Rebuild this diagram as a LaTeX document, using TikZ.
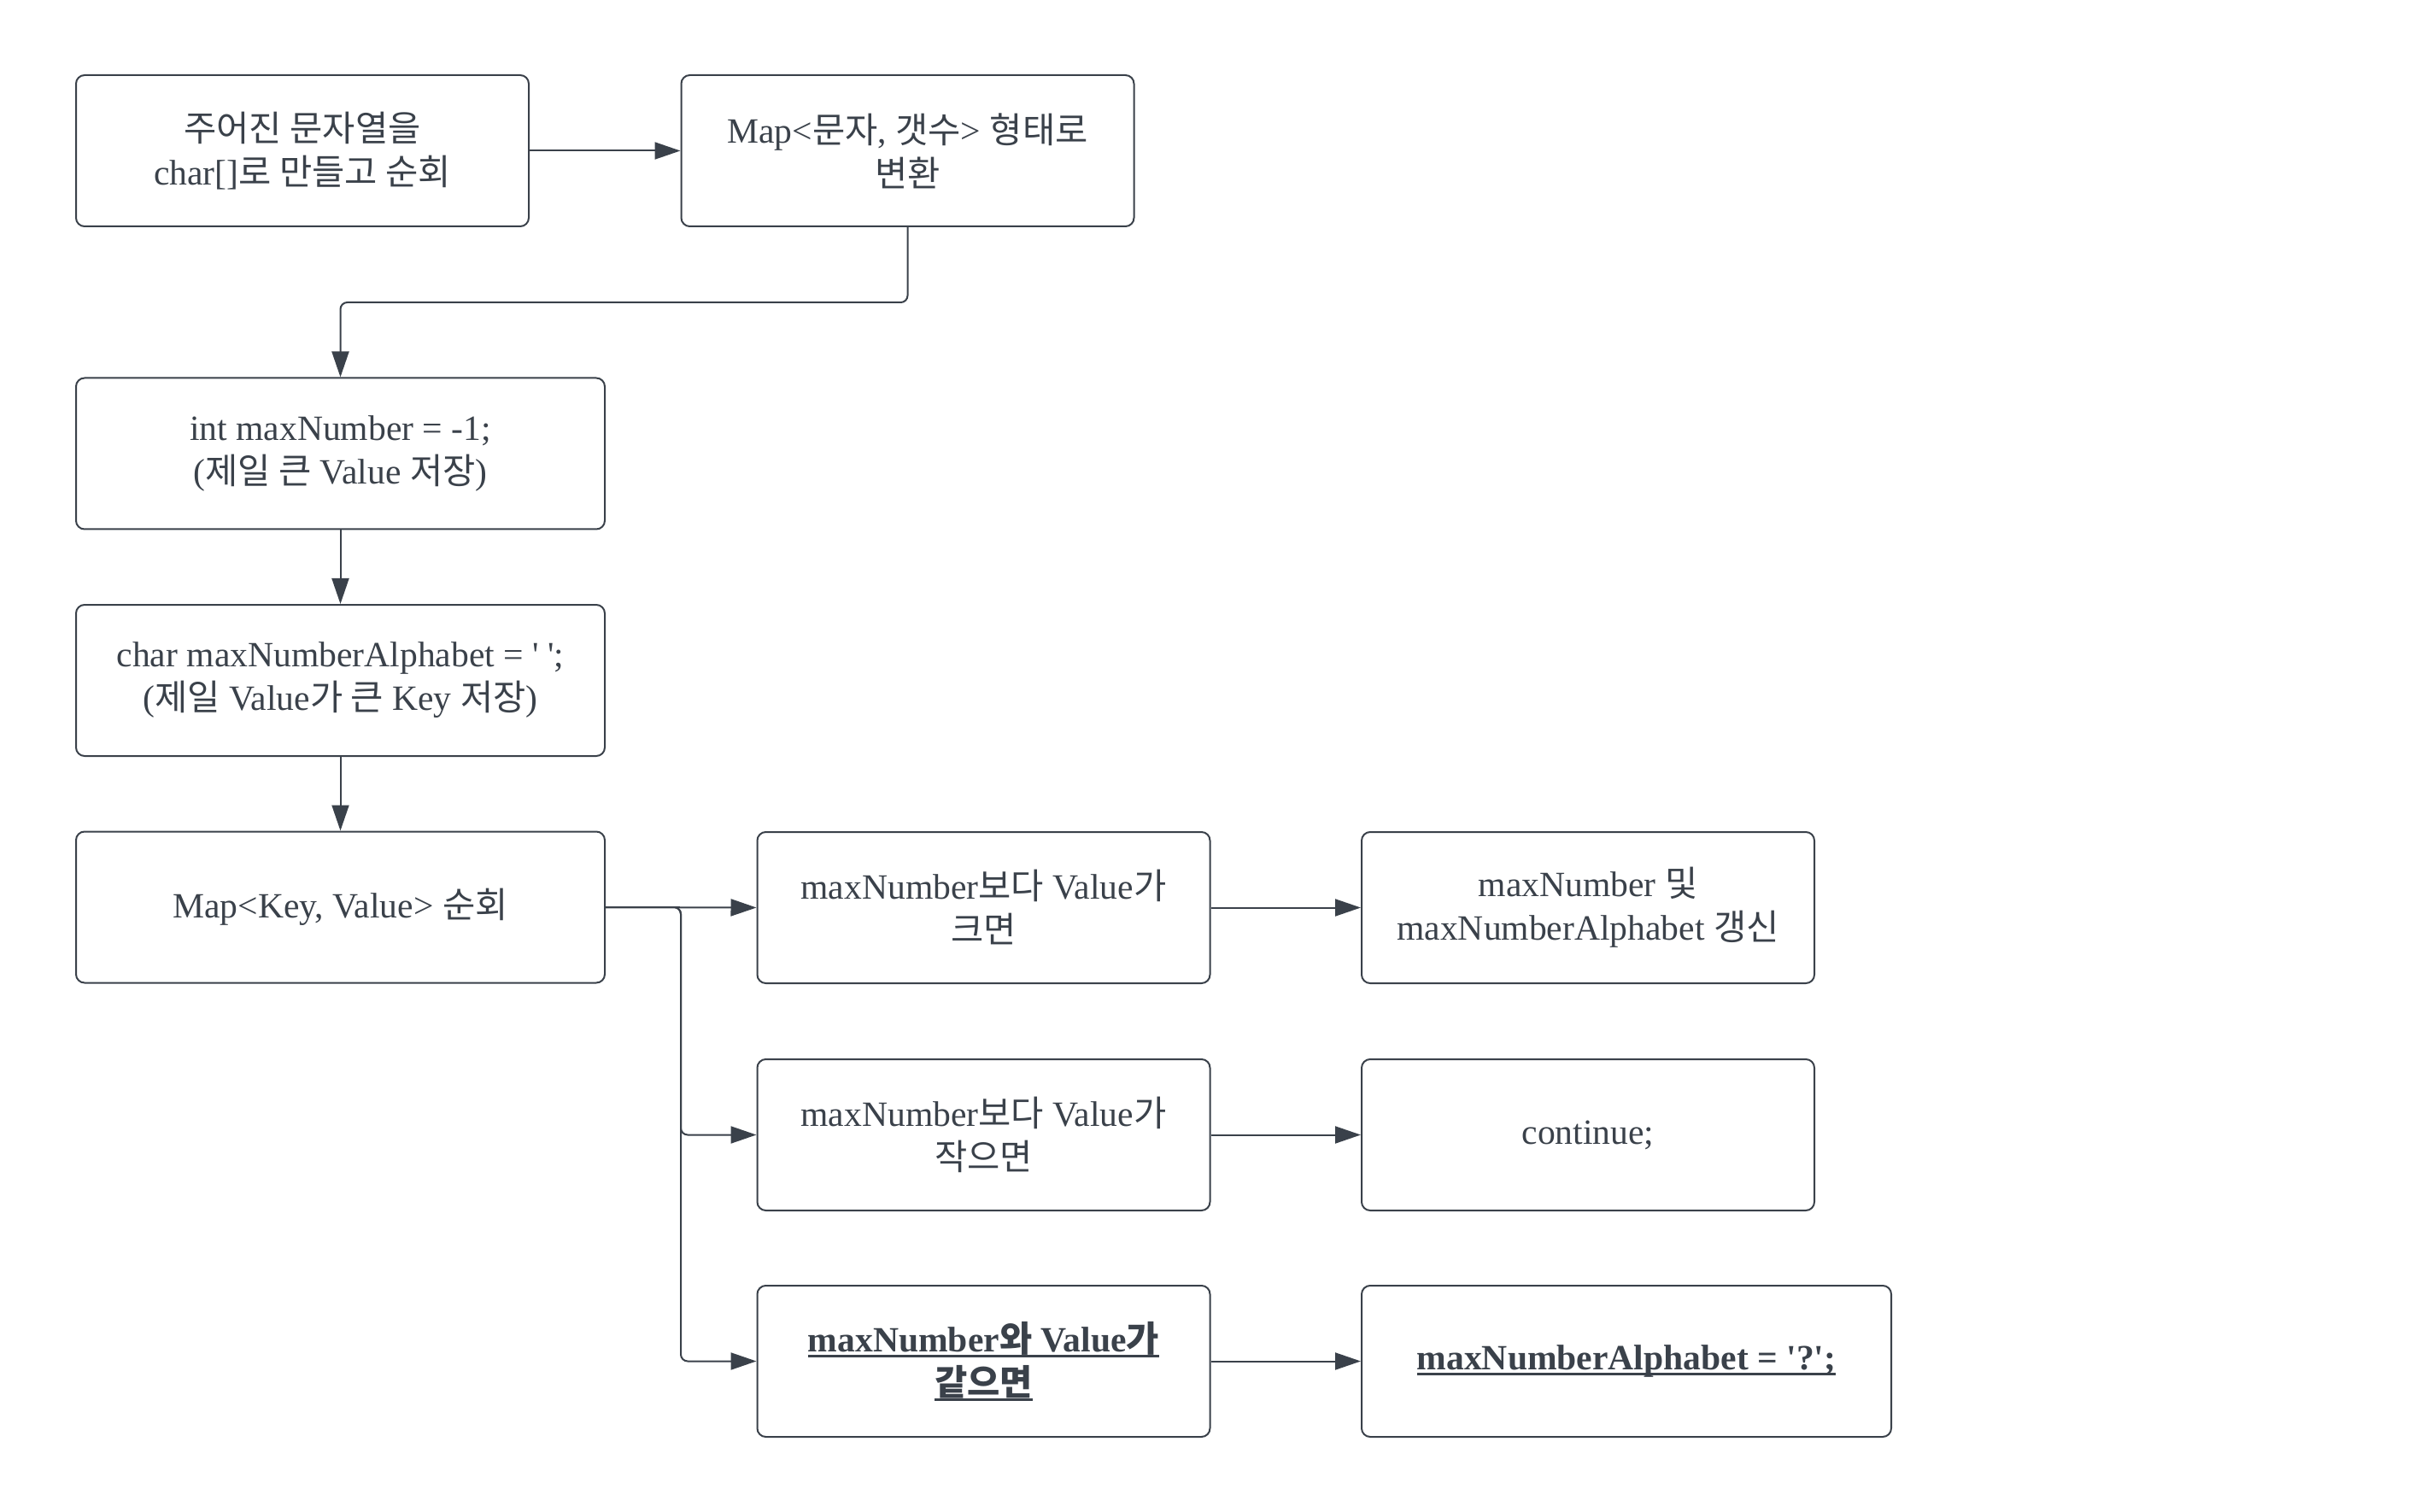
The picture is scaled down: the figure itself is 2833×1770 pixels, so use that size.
\documentclass[tikz,border=0pt]{standalone}
\usepackage{fontspec}
\setmainfont{Liberation Serif}[Ligatures=TeXOff]
\newfontfamily\krfont{Noto Sans CJK KR}
\newcommand\hk[1]{{\krfont #1}}
\newcommand\myul[1]{\setbox0\hbox{#1}\rlap{\rule[-3.2pt]{\wd0}{1.3pt}}\box0}
\usetikzlibrary{arrows.meta}
\definecolor{ln}{HTML}{3A414A}
\begin{document}
\begin{tikzpicture}[x=0.5pt,y=-0.5pt,
 box/.style={draw=ln, line width=1pt, rounded corners=5pt, minimum width=265pt, minimum height=88.5pt, inner sep=0pt, align=center, text=ln, font=\fontsize{20.8}{25.5}\selectfont},
 wide/.style={minimum width=309.5pt},
 arr/.style={draw=ln, line width=1pt, rounded corners=4pt, -{Triangle[length=15pt,width=10pt]}},
]
\useasboundingbox (0,0) rectangle (2833,1770);
\node[box] (b1) at (354,176.5) {\hk{주어진 문자열을}\\char[]\hk{로 만들고 순회}};
\node[box] (b2) at (1062.5,176.5) {Map<\hk{문자}, \hk{갯수}> \hk{형태로}\\\hk{변환}};
\node[box,wide] (b3) at (398.5,531) {int maxNumber = -1;\\(\hk{제일 큰} Value \hk{저장})};
\node[box,wide] (b4) at (398.5,796.5) {char maxNumberAlphabet = ' ';\\(\hk{제일} Value\hk{가 큰} Key \hk{저장})};
\node[box,wide] (b5) at (398.5,1062) {Map<Key, Value> \hk{순회}};
\node[box] (b6) at (1151.5,1062.5) {maxNumber\hk{보다} Value\hk{가}\\\hk{크면}};
\node[box] (b7) at (1151.5,1328.5) {maxNumber\hk{보다} Value\hk{가}\\\hk{작으면}};
\node[box] (b9) at (1151.5,1593.5) {\bfseries\myul{maxNumber\hk{와} Value\hk{가}}\\\bfseries\myul{\hk{같으면}}};
\node[box] (b8) at (1859,1062.5) {maxNumber \hk{및}\\maxNumberAlphabet \hk{갱신}};
\node[box] (b10) at (1859,1328.5) {continue;};
\node[box,minimum width=310pt] (b11) at (1904,1593.5) {\bfseries\myul{maxNumberAlphabet = '?';}};
\coordinate (m1) at (700,354);
\coordinate (tr) at (797,1062);
\draw[arr] (b1) -- (b2);
\draw[arr] (b2.south) |- (m1) -| (b3.north);
\draw[arr] (b3) -- (b4);
\draw[arr] (b4) -- (b5);
\draw[arr] (b5.east) -- (b6.west);
\draw[arr] (b5.east) -- (tr) |- (b7.west);
\draw[arr] (b5.east) -- (tr) |- (b9.west);
\draw[arr] (b6) -- (b8);
\draw[arr] (b7) -- (b10);
\draw[arr] (b9.east) -- (b9.east -| b11.west);
\end{tikzpicture}
\end{document}
